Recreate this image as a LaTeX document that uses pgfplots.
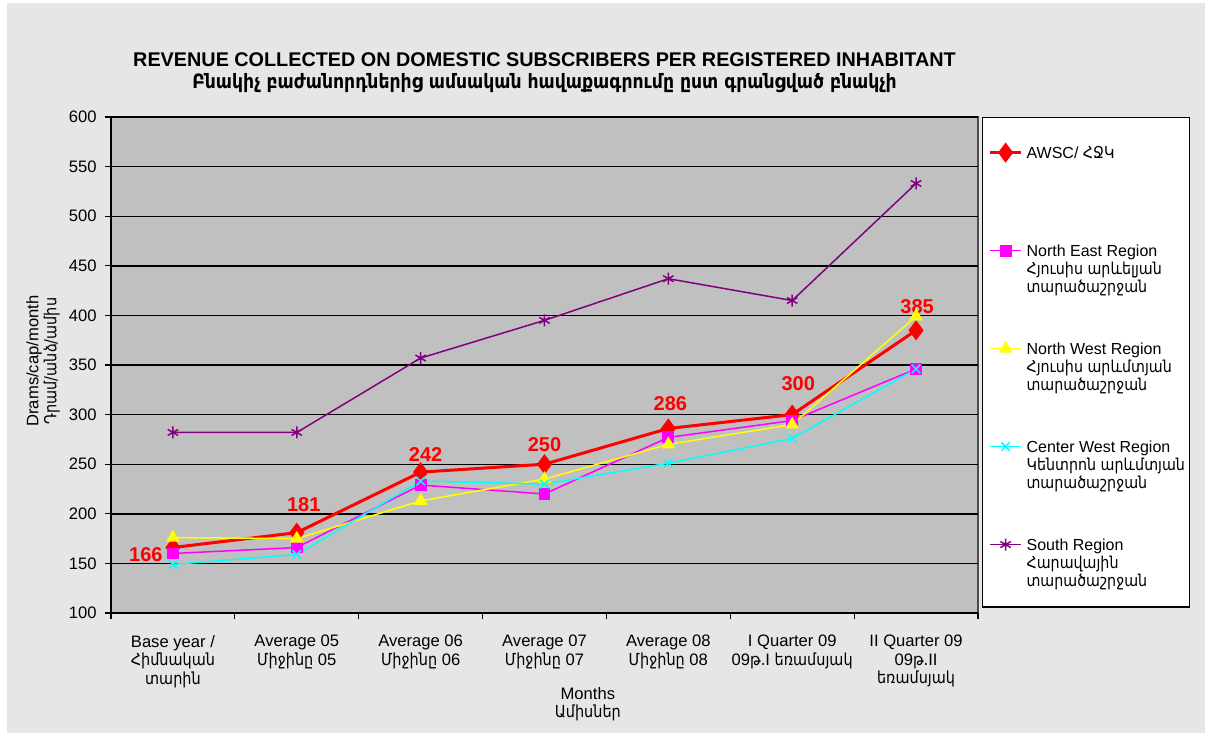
\documentclass[border=0pt]{standalone}
\usepackage{fontspec}
\setmainfont{Liberation Sans}
\newfontfamily\armn{DejaVu Sans}[FakeStretch=0.87]
\usepackage{pgfplots}
\pgfplotsset{compat=1.18}
\usepackage{pgfplotstable}
\usetikzlibrary{backgrounds}

\definecolor{plotbg}{RGB}{192,192,192}
\definecolor{pagebg}{RGB}{230,230,230}
\definecolor{neclr}{RGB}{255,0,255}
\definecolor{nwclr}{RGB}{255,255,0}
\definecolor{cwclr}{RGB}{0,255,255}
\definecolor{soclr}{RGB}{128,0,128}

% legend images; the invisible paths pad the first and the last row
\pgfplotsset{
  lgimg/.style={legend image code/.code={\path[draw=none, fill=none] (0bp,0bp) -- (0bp,#1);
    \draw[mark repeat=2, mark phase=2, ##1]
    plot coordinates {(0bp,2.9bp) (7.75bp,2.9bp) (15.5bp,2.9bp)};}},
}

% dx, dy: offset of the value label from its point, in bp
\pgfplotstableread{
x awsc ne  nw  cw  south dx   dy
0 166  160 176 149 282   -13.5 -3.5
1 181  166 175 159 282   3.5  14
2 242  229 213 233 357   2.5  9
3 250  220 235 230 395   0    10
4 286  277 270 251 437   1    12.5
5 300  294 290 276 415   3    15.5
6 385  346 399 346 533   0.5  12
}\revdata

\newcommand\lgfont{\fontsize{8bp}{9bp}\selectfont}
\newcommand\lgarm{\fontsize{8.2bp}{9bp}\selectfont\armn}
\newcommand\lgtext[3]{\parbox[t]{78.5bp}{\lgfont
  \mbox{#1}\\\mbox{\lgarm #2}\\\mbox{\lgarm #3}}}

\begin{document}
\begin{tikzpicture}
\begin{axis}[
    scale only axis,
    width=433.5bp, height=248bp,
    xmin=-0.5, xmax=6.5, ymin=100, ymax=600,
    clip=false,
    axis lines=left,
    axis line style={-, black, line width=0.6bp},
    axis background/.style={fill=plotbg, draw=gray!60!black, line width=0.6bp},
    ytick={100,150,...,600},
    xtick={0,...,6},
    minor xtick={-0.5,0.5,...,6.5},
    major x tick style={draw=none},
    tick align=outside,
    major tick length=3bp, minor tick length=3bp,
    tick style={black, line width=0.6bp},
    ymajorgrids,
    major grid style={black, line width=0.7bp},
    /pgf/number format/assume math mode=true,
    ticklabel style={font=\fontsize{8.3bp}{9.25bp}\selectfont},
    yticklabel style={inner sep=0pt, xshift=-4bp},
    xticklabel style={align=center, inner sep=0pt, yshift=-8bp},
    xticklabels={
      {Base year /\\{\armn Հիմնական}\\{\armn տարին}},
      {Average 05\\{\armn Միջինը} 05},
      {Average 06\\{\armn Միջինը} 06},
      {Average 07\\{\armn Միջինը} 07},
      {Average 08\\{\armn Միջինը} 08},
      {I Quarter 09\\09{\armn թ.}I {\armn եռամսյակ}},
      {II Quarter 09\\09{\armn թ.}II\\{\armn եռամսյակ}}},
    xlabel={Months\\{\armn Ամիսներ}},
    every axis x label/.style={at={(axis description cs:0.55,-0.1835)}, anchor=center,
      align=center, font=\fontsize{8.3bp}{9bp}\selectfont},
    ylabel={Drams/cap/month\\{\armn Դրամ/անձ/ամիս}},
    every axis y label/.style={at={(axis description cs:-0.0784,0.508)}, anchor=center,
      rotate=90, align=center, font=\fontsize{8.3bp}{8bp}\selectfont},
    title={REVENUE COLLECTED ON DOMESTIC SUBSCRIBERS PER REGISTERED INHABITANT\\
      {\armn Բնակիչ բաժանորդներից ամսական հավաքագրումը ըստ գրանցված բնակչի}},
    title style={at={(axis description cs:0.5,1)}, anchor=south, align=center,
      inner sep=0pt, yshift=6bp, font=\fontsize{9.9bp}{11bp}\selectfont\bfseries},
    legend style={at={(1,1)}, anchor=north west, xshift=2bp, draw=black, fill=white,
      line width=0.6bp, inner xsep=3bp, inner ysep=8.4bp, row sep=41.2bp, column sep=2bp,
      cells={anchor=base west, text height=6.3bp, text depth=2.7bp},
      nodes={inner sep=0pt}},
    lgimg=0bp,
]
\coordinate (O) at (rel axis cs:0,0);

\addplot[red, line width=1.5bp, mark=diamond*, mark size=3.8bp,
    mark options={solid, fill=red}, lgimg=12bp,
    nodes near coords, point meta=explicit,
    visualization depends on={\thisrow{dx}\as\dx},
    visualization depends on={\thisrow{dy}\as\dy},
    every node near coord/.append style={anchor=center, inner sep=0pt,
      xshift=\dx*1bp, yshift=\dy*1bp, text=red,
      font=\fontsize{10bp}{12bp}\selectfont\bfseries}]
  table[x=x, y=awsc, meta=awsc]{\revdata};
\addlegendentry{\parbox[t]{78.5bp}{\lgfont AWSC/ {\lgarm ՀՋԿ}}}

\addplot[neclr, line width=0.75bp, mark=square*, mark size=2.6bp,
    mark options={solid, fill=neclr}]
  table[x=x, y=ne]{\revdata};
\addlegendentry{\lgtext{North East Region}{Հյուսիս արևելյան}{տարածաշրջան}}

\addplot[nwclr, line width=0.75bp, mark=triangle*, mark size=3.2bp,
    mark options={solid, fill=nwclr}]
  table[x=x, y=nw]{\revdata};
\addlegendentry{\lgtext{North West Region}{Հյուսիս արևմտյան}{տարածաշրջան}}

\addplot[cwclr, line width=0.75bp, mark=x, mark size=3bp,
    mark options={solid}]
  table[x=x, y=cw]{\revdata};
\addlegendentry{\lgtext{Center West Region}{Կենտրոն արևմտյան}{տարածաշրջան}}

\addplot[soclr, line width=0.75bp, mark=asterisk, mark size=3bp,
    mark options={solid}, lgimg=-19.9bp]
  table[x=x, y=south]{\revdata};
\addlegendentry{\lgtext{South Region}{Հարավային}{տարածաշրջան}}
\end{axis}
\pgfresetboundingbox
\begin{scope}[on background layer]
  \fill[white] ([shift={(-55.5bp,-60bp)}]O) rectangle ([shift={(547bp,306.5bp)}]O);
  \fill[pagebg] ([shift={(-52bp,-60bp)}]O) rectangle ([shift={(547bp,305bp)}]O);
\end{scope}
\end{tikzpicture}
\end{document}
